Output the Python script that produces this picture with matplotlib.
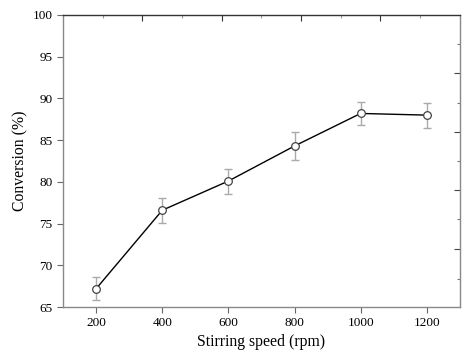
import matplotlib
matplotlib.use("Agg")
import matplotlib.pyplot as plt
import numpy as np

plt.rcParams['font.family'] = ['Liberation Serif', 'DejaVu Serif']

speed = [200, 400, 600, 800, 1000, 1200]
conversion = [67.2, 76.6, 80.1, 84.3, 88.2, 88.0]
err = [1.4, 1.5, 1.5, 1.7, 1.4, 1.5]

# mirror ticks on top/right are offset in the original, keep them as read
top_major = [340, 580, 820, 1060]
top_minor = [220, 460, 700, 940, 1180]
right_major = [71.9, 79.0, 86.0, 93.0]
right_minor = [68.4, 75.5, 82.5, 89.5, 96.5]

fig = plt.figure(figsize=(4.64, 3.57), dpi=100)
ax = fig.add_axes([0.136, 0.140, 0.855, 0.818])

ax.errorbar(speed, conversion, yerr=err, fmt='none', ecolor='#aaaaaa',
            elinewidth=1.0, capsize=3, capthick=1.0, zorder=1)
ax.plot(speed, conversion, color='black', lw=1.0, zorder=2)
ax.plot(speed, conversion, 'o', ms=5.5, mfc='white', mec='#444444', mew=0.9,
        ls='none', zorder=3)

ax.set_xlim(100, 1300)
ax.set_ylim(65, 100)
ax.set_xticks(speed)
ax.set_yticks(np.arange(65, 101, 5))
ax.set_xlabel('Stirring speed (rpm)', fontsize=11.3, labelpad=3)
ax.set_ylabel('Conversion (%)', fontsize=11.3, labelpad=3)

for s in ['left', 'bottom', 'right']:
    ax.spines[s].set_color('#888888')
    ax.spines[s].set_linewidth(1.0)
ax.spines['top'].set_color('#333333')
ax.spines['top'].set_linewidth(1.0)

ax.tick_params(axis='both', direction='out', length=4, width=0.8,
               color='#666666', labelsize=9.5)

sec = ax.secondary_xaxis('top')
sec.set_xticks(top_major)
sec.set_xticks(top_minor, minor=True)
sec.tick_params(which='major', direction='in', length=4, width=0.8,
                color='#333333', labeltop=False)
sec.tick_params(which='minor', direction='in', length=2.5, width=0.8,
                color='#999999')
sec.spines['top'].set_visible(False)

secy = ax.secondary_yaxis('right')
secy.set_yticks(right_major)
secy.set_yticks(right_minor, minor=True)
secy.tick_params(which='major', direction='in', length=4, width=0.8,
                 color='#444444', labelright=False)
secy.tick_params(which='minor', direction='in', length=2.5, width=0.8,
                 color='#777777')
secy.spines['right'].set_visible(False)

fig.savefig('out.png', dpi=100)
